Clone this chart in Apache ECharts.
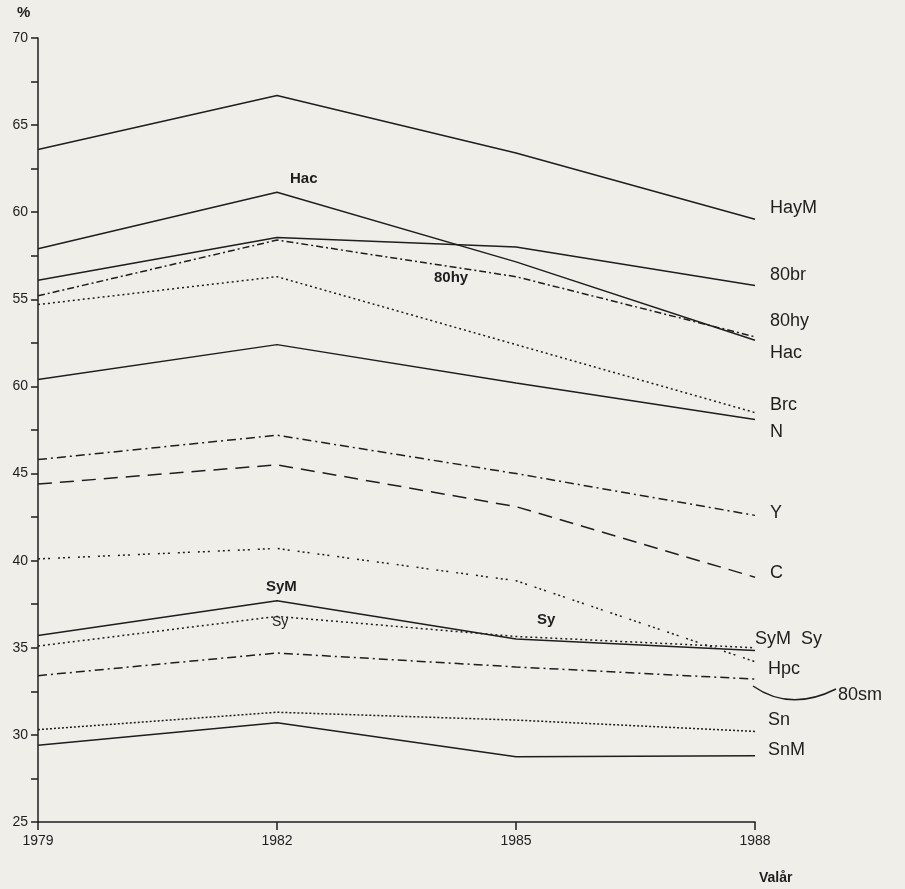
<!DOCTYPE html>
<html>
<head>
<meta charset="utf-8">
<script src="https://cdn.jsdelivr.net/npm/echarts@6/dist/echarts.min.js"></script>
<style>
  html, body { margin: 0; padding: 0; background: #efeee9; }
  #chart { width: 905px; height: 889px; }
</style>
</head>
<body>
<div id="chart"></div>
<script>
// Survey years on the x axis
const years = ['1979', '1982', '1985', '1988'];

// Share (%) per group and election year
const HayM  = [63.6, 66.7, 63.4, 59.6];
const Hac   = [57.9, 61.15, 57.15, 52.65];
const br80  = [56.1, 58.55, 58.0, 55.8];
const hy80  = [55.2, 58.4, 56.3, 52.85];
const Brc   = [54.7, 56.3, 52.4, 48.5];
const N     = [50.4, 52.4, 50.2, 48.1];
const Y     = [45.8, 47.2, 45.0, 42.6];
const C     = [44.4, 45.5, 43.1, 39.05];
const Hpc   = [40.1, 40.7, 38.85, 34.2];
const SyM   = [35.7, 37.7, 35.5, 34.85];
const Sy    = [35.1, 36.8, 35.65, 35.0];
const sm80  = [33.4, 34.7, 33.9, 33.2];
const Sn    = [30.3, 31.3, 30.85, 30.2];
const SnM   = [29.4, 30.7, 28.75, 28.8];

// Y tick labels as printed on the axis (25 .. 70)
const yTickValues = [25, 30, 35, 40, 45, 50, 55, 60, 65, 70];
const yTickLabels = ['25', '30', '35', '40', '45', '60', '55', '60', '65', '70'];

const INK = '#1e1e1e';
const FONT = '"Liberation Sans", Arial, sans-serif';

const solid   = { type: 'solid' };
const dotted  = { type: [2, 3] };
const dotFine = { type: [2, 2] };
const dashDot = { type: [9, 4, 2, 4] };
const dashDotTight = { type: [7, 3, 2, 3] };
const longDash = { type: [14, 8] };
const sparseDots = { type: [2, 3, 2, 3, 2, 8] };

function line(name, data, style, width) {
  return {
    name: name,
    type: 'line',
    data: data,
    symbol: 'none',
    silent: true,
    lineStyle: { color: INK, width: width || 1.5, type: style.type },
    z: 2
  };
}

const series = [
  line('HayM', HayM, solid),
  line('Hac', Hac, solid),
  line('80br', br80, solid),
  line('80hy', hy80, dashDotTight),
  line('Brc', Brc, dotted),
  line('N', N, solid),
  line('Y', Y, dashDot),
  line('C', C, longDash),
  line('Hpc', Hpc, sparseDots),
  line('SyM', SyM, solid),
  line('Sy', Sy, dotted),
  line('80sm', sm80, dashDot),
  line('Sn', Sn, dotFine),
  line('SnM', SnM, solid)
];

const chart = echarts.init(document.getElementById('chart'), null, { renderer: 'canvas' });

const endLabel = (text, x, y, size) => ({
  type: 'text', left: x, top: y,
  style: { text: text, fill: INK, font: (size || 18) + 'px ' + FONT }
});
const innerLabel = (text, x, y, size) => ({
  type: 'text', left: x, top: y,
  style: { text: text, fill: INK, font: 'bold ' + (size || 15) + 'px ' + FONT }
});

chart.setOption({
  animation: false,
  backgroundColor: '#efeee9',
  grid: { left: 38, right: 150, top: 38, bottom: 67, containLabel: false },
  xAxis: {
    type: 'category',
    data: years,
    boundaryGap: false,
    axisLine: { lineStyle: { color: INK, width: 1.5 } },
    axisTick: { show: true, length: 8, lineStyle: { color: INK, width: 1.5 } },
    axisLabel: { color: INK, fontFamily: FONT, fontSize: 14, margin: 12 },
    splitLine: { show: false }
  },
  yAxis: {
    type: 'value',
    min: 25, max: 70, interval: 5,
    axisLine: { show: true, lineStyle: { color: INK, width: 1.5 } },
    axisTick: { show: true, length: 7, lineStyle: { color: INK, width: 1.5 } },
    minorTick: { show: true, splitNumber: 2, length: 7, lineStyle: { color: INK, width: 1.5 } },
    axisLabel: {
      color: INK, fontFamily: FONT, fontSize: 14, margin: 10,
      formatter: v => {
        const i = yTickValues.indexOf(v);
        return i >= 0 ? yTickLabels[i] : '';
      }
    },
    splitLine: { show: false }
  },
  series: series,
  graphic: [
    { type: 'text', left: 17, top: 5, style: { text: '%', fill: INK, font: 'bold 15px ' + FONT } },
    { type: 'text', left: 759, top: 871, style: { text: 'Valår', fill: INK, font: 'bold 14px ' + FONT } },
    endLabel('HayM', 770, 199),
    endLabel('80br', 770, 266),
    endLabel('80hy', 770, 312),
    endLabel('Hac', 770, 344),
    endLabel('Brc', 770, 396),
    endLabel('N', 770, 423),
    endLabel('Y', 770, 504),
    endLabel('C', 770, 564),
    endLabel('SyM  Sy', 755, 630),
    endLabel('Hpc', 768, 660),
    endLabel('80sm', 838, 686),
    endLabel('Sn', 768, 711),
    endLabel('SnM', 768, 741),
    innerLabel('Hac', 290, 171),
    innerLabel('80hy', 434, 270),
    innerLabel('SyM', 266, 579),
    { type: 'text', left: 272, top: 615, style: { text: 'Sy', fill: INK, font: '14px ' + FONT } },
    innerLabel('Sy', 537, 612),
    {
      type: 'bezierCurve',
      shape: { x1: 753, y1: 686, cpx1: 790, cpy1: 712, x2: 836, y2: 689 },
      style: { stroke: INK, lineWidth: 1.5, fill: null }
    }
  ]
});
</script>
</body>
</html>
